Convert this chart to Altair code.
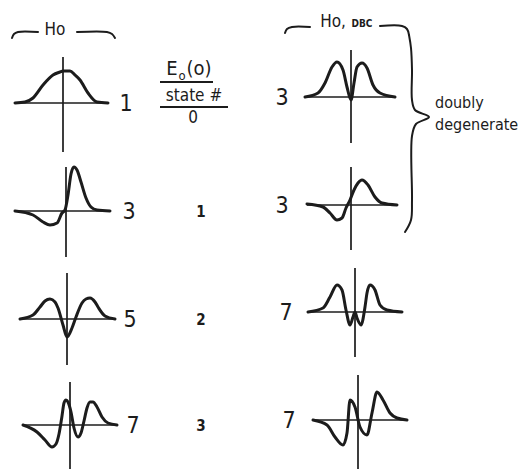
import altair as alt
import pandas as pd

W, H = 526, 469
INK = "#1c1c1c"
FONT = "DejaVu Sans Condensed, DejaVu Sans"

# Sketched wavefunctions: x = offset from the symmetry axis, psi = height above the baseline
ho_1_x = [-48, -38, -30, -20, -10, -3, 0, 7, 12, 17, 25, 34, 45]
ho_1_psi = [0, 1, 5, 18, 28, 31, 32, 32, 28, 23, 10, 1, 0]

ho_3_x = [-51, -33, -23, -16, -9, -4, -1, 2, 5, 8, 11, 15, 20, 25, 31, 44]
ho_3_psi = [0, -4, -11, -14, -12, -2, 1, 16, 37, 44, 41, 29, 13, 4, 1, 0]

ho_5_x = [-47, -34, -27, -22, -17, -12, -9, -4, 0, 5, 9, 15, 19, 23, 28, 31, 38, 48]
ho_5_psi = [0, 4, 12, 18, 20, 17, 11, -6, -18, -9, 2, 16, 20, 21, 17, 12, 3, 0]

ho_7_x = [-47, -33, -25, -18, -14, -11, -8, -6, -4, -2, 1, 4, 8, 11, 14, 17, 20, 23, 27, 32, 38, 47]
ho_7_psi = [0, -7, -15, -22, -19, -9, 9, 22, 25, 23, 13, -3, -12, -8, 4, 17, 23, 23, 18, 8, 2, 0]

dbc_3a_x = [-46, -33, -26, -19, -14, -8, -4, 0, 3, 6, 11, 16, 22, 29, 44]
dbc_3a_psi = [0, 4, 14, 30, 35, 27, 10, -3, 14, 30, 34, 29, 12, 4, 0]

dbc_3b_x = [-44, -28, -21, -14, -9, -5, -1, 3, 7, 11, 17, 24, 31, 46]
dbc_3b_psi = [1, -2, -8, -15, -13, -3, 5, 15, 22, 25, 20, 8, 2, 0]

dbc_7a_x = [-47, -32, -25, -18, -13, -9, -5, -2, 0, 2, 6, 10, 12, 15, 20, 25, 32, 47]
dbc_7a_psi = [0, 4, 15, 27, 22, 2, -13, -5, 0, -6, -13, 5, 19, 27, 22, 7, 2, 0]

dbc_7b_x = [-45, -31, -23, -15, -11, -8, -3, 2, 9, 14, 19, 25, 32, 39, 49]
dbc_7b_psi = [0, -5, -17, -25, -13, 20, 13, -7, -15, 7, 28, 20, 7, 2, 0]

ho_energy = ["1", "3", "5", "7"]
dbc_energy = ["3", "3", "7", "7"]
state_number = ["0", "1", "2", "3"]

# Panel frames: (axis x, baseline y, axis reach above, axis reach below)
ho_frames = [(63, 103, 46, 49), (66, 211, 44, 46), (67, 319, 46, 46), (70, 425, 43, 44)]
dbc_frames = [(351, 97, 47, 46), (351, 205, 38, 45), (355, 312, 44, 45), (358, 420, 45, 49)]

ho_curves = [(ho_1_x, ho_1_psi), (ho_3_x, ho_3_psi), (ho_5_x, ho_5_psi), (ho_7_x, ho_7_psi)]
dbc_curves = [(dbc_3a_x, dbc_3a_psi), (dbc_3b_x, dbc_3b_psi),
              (dbc_7a_x, dbc_7a_psi), (dbc_7b_x, dbc_7b_psi)]

curve_rows, hline_rows, vline_rows, label_rows = [], [], [], []
for side, frames, curves, energies, dx_label in (
        ("ho", ho_frames, ho_curves, ho_energy, 63),
        ("dbc", dbc_frames, dbc_curves, dbc_energy, -69)):
    for k, ((ax, base, up, down), (xs, ps), e) in enumerate(zip(frames, curves, energies)):
        g = f"{side}{k}"
        for i, (dx, p) in enumerate(zip(xs, ps)):
            curve_rows.append({"g": g, "i": i, "x": ax + dx, "y": base - p})
        hline_rows.append({"x": ax + xs[0], "x2": ax + xs[-1], "y": base})
        vline_rows.append({"x": ax, "y": base - up, "y2": base + down})
        label_rows.append({"x": ax + dx_label, "y": base + 1, "t": e})

state_rows = [{"x": 201, "y": b + 1, "t": s}
              for (_, b, _, _), s in zip(ho_frames[1:], state_number[1:])]

xs = alt.Scale(domain=[0, W], nice=False, zero=False)
ys = alt.Scale(domain=[0, H], nice=False, zero=False, reverse=True)
X = lambda f="x": alt.X(f"{f}:Q", scale=xs, axis=None)
Y = lambda f="y": alt.Y(f"{f}:Q", scale=ys, axis=None)

curves = alt.Chart(pd.DataFrame(curve_rows)).mark_line(
    interpolate="monotone", color=INK, strokeWidth=3.0, strokeCap="round", strokeJoin="round"
).encode(x=X(), y=Y(), detail="g:N", order="i:Q")

hlines = alt.Chart(pd.DataFrame(hline_rows)).mark_rule(color=INK, strokeWidth=1.7).encode(
    x=X(), x2="x2:Q", y=Y())
vlines = alt.Chart(pd.DataFrame(vline_rows)).mark_rule(color=INK, strokeWidth=1.7).encode(
    x=X(), y=Y(), y2="y2:Q")

# Header brackets and the brace grouping the degenerate pair
deco_rows = []
shapes = {
    "ho_l": [(12, 38), (14, 34), (18, 32), (38, 32)],
    "ho_r": [(77, 32), (107, 32), (112, 34), (115, 38)],
    "dbc_l": [(285, 33), (287, 29), (292, 27), (310, 27)],
    "dbc_r": [(380, 26), (402, 26), (407, 29), (409, 35)],
    "brace": [(409, 35), (411, 48), (412, 70), (412, 100), (415, 110), (429, 117),
              (416, 124), (412, 136), (412, 200), (411, 220), (405, 232)],
}
for name, pts in shapes.items():
    for i, (px, py) in enumerate(pts):
        deco_rows.append({"g": name, "i": i, "x": px, "y": py})
deco = alt.Chart(pd.DataFrame(deco_rows)).mark_line(
    interpolate="catmull-rom", color=INK, strokeWidth=2.0, strokeCap="round"
).encode(x=X(), y=Y(), detail="g:N", order="i:Q")


def text_layer(rows, size, weight="normal", align="center"):
    return alt.Chart(pd.DataFrame(rows)).mark_text(
        font=FONT, fontSize=size, fontWeight=weight, color=INK, align=align, baseline="middle"
    ).encode(x=X(), y=Y(), text="t:N")


energy_text = text_layer(label_rows, 23)
state_text = text_layer(state_rows, 15, "bold")

header_text = text_layer([{"x": 55, "y": 30, "t": "Ho"}, {"x": 333, "y": 22, "t": "Ho,"}], 17)
dbc_small = text_layer([{"x": 362, "y": 24, "t": "DBC"}], 10, "bold")

eo_big = text_layer([{"x": 172, "y": 69, "t": "E"}, {"x": 199, "y": 69, "t": "(o)"}], 20)
eo_sub = text_layer([{"x": 182, "y": 76, "t": "o"}], 13)
state_head = text_layer([{"x": 194, "y": 96, "t": "state #"}, {"x": 193, "y": 118, "t": state_number[0]}], 17)
rules_head = alt.Chart(pd.DataFrame([
    {"x": 160, "x2": 213, "y": 82}, {"x": 160, "x2": 228, "y": 107}])).mark_rule(
    color=INK, strokeWidth=2).encode(x=X(), x2="x2:Q", y=Y())

degen = text_layer([{"x": 435, "y": 103, "t": "doubly"}, {"x": 435, "y": 125, "t": "degenerate"}],
                   16, align="left")

chart = alt.layer(
    hlines, vlines, curves, deco, rules_head,
    energy_text, state_text, header_text, dbc_small, eo_big, eo_sub, state_head, degen
).properties(
    width=W, height=H, autosize=alt.AutoSizeParams(type="none"), padding=0, background="white"
).configure_view(stroke=None)

chart.save("out.html", embed_options={"renderer": "svg", "actions": False})
